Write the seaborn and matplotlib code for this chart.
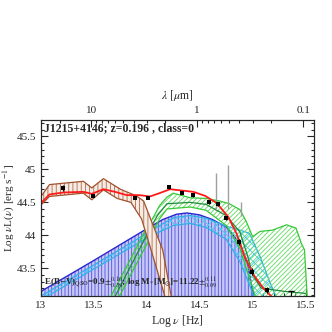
import numpy as np
import matplotlib
matplotlib.use('Agg')
import matplotlib.pyplot as plt
from matplotlib.ticker import FuncFormatter, MultipleLocator
import seaborn as sns

# photometry (rest frame)
obs_lognu = [13.21, 13.49, 13.89, 14.01, 14.21, 14.33, 14.44, 14.59, 14.67, 14.75, 14.87, 14.99, 15.14]
obs_logL = [44.72, 44.60, 44.57, 44.57, 44.74, 44.65, 44.61, 44.51, 44.47, 44.26, 43.90, 43.45, 43.17]
obs_err = [0.04, 0.02, 0.02, 0.02, 0.03, 0.03, 0.03, 0.03, 0.03, 0.02, 0.04, 0.05, 0.04]
ul_lognu = [15.36]
ul_logL = [43.15]

# total model
model_lognu = [13.0, 13.08, 13.21, 13.40, 13.48, 13.59, 13.70, 13.81, 13.93, 14.03, 14.12, 14.22,
               14.33, 14.44, 14.55, 14.66, 14.77, 14.85, 14.92, 15.0, 15.10, 15.18, 15.25]
model_logL = [44.49, 44.62, 44.65, 44.66, 44.63, 44.70, 44.66, 44.61, 44.61, 44.59, 44.64, 44.70,
              44.68, 44.66, 44.60, 44.49, 44.28, 44.02, 43.70, 43.42, 43.20, 43.07, 42.95]

# torus band
torus_up_nu = [13.0, 13.08, 13.40, 13.48, 13.59, 13.75, 13.90, 13.97, 14.06, 14.15, 14.23, 14.25]
torus_up_L = [44.59, 44.77, 44.82, 44.72, 44.86, 44.70, 44.60, 44.52, 44.15, 43.78, 43.08, 42.95]
torus_lo_nu = [13.0, 13.08, 13.40, 13.48, 13.59, 13.72, 13.85, 13.95, 14.04, 14.12, 14.17, 14.19]
torus_lo_L = [44.46, 44.59, 44.64, 44.54, 44.69, 44.56, 44.50, 44.25, 43.78, 43.35, 43.08, 42.95]

# host galaxy
host_nu = [13.0, 13.5, 14.0, 14.15, 14.28, 14.38, 14.5, 14.62, 14.75, 14.88, 14.96, 15.0, 15.02]
host_L = [43.15, 43.62, 44.10, 44.24, 44.32, 44.34, 44.31, 44.24, 44.13, 43.88, 43.52, 43.15, 42.95]

# cyan band
cyan_up_nu = [13.0, 13.5, 14.0, 14.25, 14.41, 14.56, 14.75, 14.88, 14.97, 15.07, 15.16, 15.22, 15.25]
cyan_up_L = [43.08, 43.55, 44.03, 44.27, 44.30, 44.26, 44.14, 44.08, 44.03, 43.68, 43.30, 43.08, 42.95]
cyan_lo_nu = [13.0, 13.5, 14.0, 14.25, 14.41, 14.56, 14.75, 14.88, 15.0, 15.03]
cyan_lo_L = [43.02, 43.49, 43.96, 44.15, 44.18, 44.12, 43.94, 43.60, 43.13, 42.95]

# QSO band
qso_up_nu = [13.62, 13.80, 14.00, 14.05, 14.12, 14.19, 14.25, 14.41, 14.56, 14.69, 14.78, 14.88,
             14.94, 15.00, 15.07, 15.19, 15.32, 15.41, 15.46, 15.49, 15.52]
qso_up_L = [42.95, 43.50, 44.12, 44.24, 44.45, 44.58, 44.64, 44.57, 44.56, 44.52, 44.48, 44.39,
            44.21, 43.98, 44.06, 44.08, 44.16, 44.11, 43.88, 43.78, 42.95]
qso_lo_nu = [13.70, 13.88, 14.06, 14.12, 14.19, 14.41, 14.56, 14.75, 14.88, 14.95, 15.00, 15.05]
qso_lo_L = [42.95, 43.50, 44.05, 44.25, 44.40, 44.43, 44.38, 44.15, 43.80, 43.45, 43.20, 42.95]
qso_mid_nu = [13.66, 14.03, 14.10, 14.19, 14.41, 14.56, 14.75, 14.88, 14.95, 15.0, 15.08, 15.3, 15.5]
qso_mid_L = [42.95, 44.10, 44.30, 44.48, 44.50, 44.47, 44.30, 44.05, 43.70, 43.40, 43.20, 43.15, 43.12]

# emission lines
line_nu = [14.65, 14.77, 14.89]
line_bot = [44.40, 44.40, 44.30]
line_top = [44.95, 45.07, 44.50]

lam_major = [10, 1, 0.1]
log_c = np.log10(2.998e14)

sns.set_style('ticks')
plt.rcParams['font.family'] = ['Liberation Serif', 'DejaVu Serif']
plt.rcParams['mathtext.fontset'] = 'stix'
plt.rcParams['hatch.linewidth'] = 0.6

fig = plt.figure(figsize=(3.32, 3.32), dpi=100)
ax = fig.add_axes([0.1235, 0.1084, 0.8223, 0.5302])


def band(up_nu, up_L, lo_nu, lo_L, face, hatch, hcol, ecol, z):
    xs = list(up_nu) + list(lo_nu)[::-1]
    ys = list(up_L) + list(lo_L)[::-1]
    ax.fill(xs, ys, facecolor=face, edgecolor=hcol, hatch=hatch, linewidth=0, zorder=z)
    ax.plot(up_nu, up_L, color=ecol, lw=0.9, zorder=z + 0.1)
    ax.plot(lo_nu, lo_L, color=ecol, lw=0.9, zorder=z + 0.1)


# host
ax.fill(host_nu + [15.02, 13.0], host_L + [42.9, 42.9], facecolor='#c8c8f4',
        edgecolor='#5050e8', hatch='|||||', linewidth=0, zorder=1)
ax.plot(host_nu, host_L, color='#2828d0', lw=1.0, zorder=1.2)

band(cyan_up_nu, cyan_up_L, cyan_lo_nu, cyan_lo_L, 'none', 'xxxx', '#48c8f0', '#30b0e8', 2)
band(qso_up_nu, qso_up_L, qso_lo_nu, qso_lo_L, 'none', '///////', '#60dc60', '#38c838', 3)
ax.plot(qso_mid_nu, qso_mid_L, color='#1e8a3a', lw=0.9, zorder=3.2)
band(torus_up_nu, torus_up_L, torus_lo_nu, torus_lo_L, '#f6ebe5', '||||', '#b06a48', '#a0522d', 4)

ax.vlines(line_nu, line_bot, line_top, color='#a0a0a0', lw=1.0, zorder=3.5)

sns.lineplot(x=model_lognu, y=model_logL, sort=False, color='#ff1a1a', lw=1.3, ax=ax, zorder=5)
ax.errorbar(obs_lognu, obs_logL, yerr=obs_err, fmt='none', ecolor='black', elinewidth=0.8, zorder=6)
sns.scatterplot(x=obs_lognu, y=obs_logL, marker='s', s=12, color='black', edgecolor='black',
                linewidth=0, ax=ax, zorder=7)
ax.errorbar(ul_lognu, ul_logL, yerr=[[0.1], [0.0]], fmt='none', ecolor='black',
            elinewidth=0.8, capsize=2, zorder=6)

ax.set_xlim(13.0, 15.58)
ax.set_ylim(43.08, 45.75)
fmt = FuncFormatter(lambda v, p: '%g' % v)
ax.xaxis.set_major_locator(MultipleLocator(0.5))
ax.xaxis.set_minor_locator(MultipleLocator(0.1))
ax.yaxis.set_major_locator(MultipleLocator(0.5))
ax.yaxis.set_minor_locator(MultipleLocator(0.1))
ax.xaxis.set_major_formatter(fmt)
ax.yaxis.set_major_formatter(fmt)
ax.tick_params(which='both', direction='in', right=True, top=False, labelsize=8, width=0.8)
ax.tick_params(which='major', length=5)
ax.tick_params(which='minor', length=2.5)
for s in ax.spines.values():
    s.set_linewidth(0.8)

ax2 = ax.twiny()
ax2.set_xlim(ax.get_xlim())
ax2.set_xticks([log_c - np.log10(l) for l in lam_major])
ax2.set_xticklabels(['%g' % l for l in lam_major])
minors = [k * 10.0 ** e for e in (-1, 0, 1) for k in range(2, 10)]
ax2.set_xticks([log_c - np.log10(l) for l in minors if 13.0 < log_c - np.log10(l) < 15.58], minor=True)
ax2.tick_params(which='both', direction='in', labelsize=8, width=0.8)
ax2.tick_params(which='major', length=5)
ax2.tick_params(which='minor', length=2.5)
ax2.set_xlabel(r'$\lambda\ [\mu$m$]$', fontsize=8.5, labelpad=5)

ax.set_xlabel(r'Log $\nu$ [Hz]', fontsize=8.5, labelpad=2)
ax.set_ylabel(r'Log $\nu$L($\nu$) [erg s$^{-1}$]', fontsize=8)
ax.yaxis.set_label_coords(-0.088, 0.5)

ax.text(13.03, 45.62, 'J1215+4146; z=0.196 , class=0', fontsize=8.5, fontweight='bold',
        va='center', ha='left', zorder=10)
ax.text(13.03, 43.27,
        r'E(B$-$V)$_{\rm QSO}$=0.9$\pm^{0.10}_{0.39}$; log M$_{*}$[M$_{\odot}$]=11.22$\pm^{0.11}_{0.09}$',
        fontsize=6.5, fontweight='bold', va='center', ha='left', zorder=10)

fig.savefig('out.png', dpi=100)
